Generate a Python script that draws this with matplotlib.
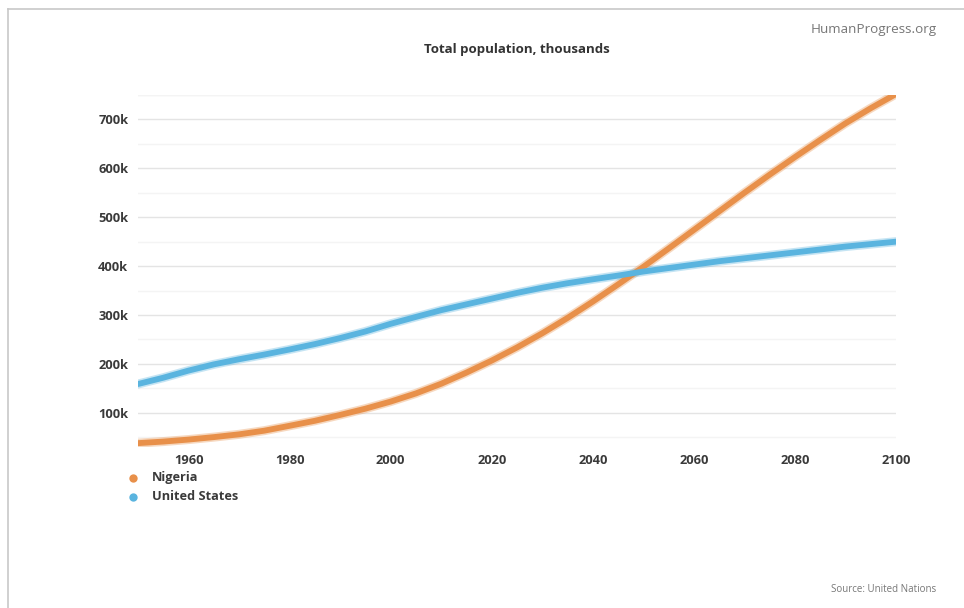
import numpy as np
import matplotlib.pyplot as plt
from matplotlib.lines import Line2D
from matplotlib.ticker import FuncFormatter, MultipleLocator

plt.rcParams['font.family'] = ['Open Sans', 'DejaVu Sans']

# population, thousands (UN estimates)
years = [1950, 1955, 1960, 1965, 1970, 1975, 1980, 1985, 1990, 1995, 2000,
         2005, 2010, 2015, 2020, 2025, 2030, 2035, 2040, 2045, 2050, 2055,
         2060, 2065, 2070, 2075, 2080, 2085, 2090, 2095, 2100]
nigeria = [37900, 41100, 45200, 50200, 55900, 63400, 73400, 83600, 95600,
           108400, 122900, 139600, 159400, 182200, 206800, 233600, 262600,
           294000, 327400, 362500, 398500, 436000, 474000, 512000, 550000,
           587000, 623000, 658000, 692000, 723000, 752000]
usa = [158800, 171700, 186300, 199000, 209500, 219100, 229500, 240500,
       252800, 266300, 282000, 296100, 309900, 321800, 333500, 345200,
       355800, 365000, 373000, 380600, 388900, 396000, 403000, 410000,
       416000, 422000, 428000, 434000, 440000, 445000, 450000]
series_names = ['Nigeria', 'United States']
series_colors = ['#e8904a', '#5ab4df']
x_ticks = [1960, 1980, 2000, 2020, 2040, 2060, 2080, 2100]
y_ticks = [100000, 200000, 300000, 400000, 500000, 600000, 700000]

fig = plt.figure(figsize=(9.64, 6.08), dpi=100)
ax = fig.add_axes([138/964, 1 - 447/608, (896 - 138)/964, (447 - 95)/608])

for vals, name, col in zip([nigeria, usa], series_names, series_colors):
    # soft halo then core line, the reference looks slightly blurred
    ax.plot(years, vals, color=col, lw=6.5, alpha=0.35,
            solid_capstyle='round', zorder=3)
    ax.plot(years, vals, color=col, lw=4.2, solid_capstyle='round',
            zorder=4, label=name)

ax.set_xlim(1950, 2100)
ax.set_ylim(30000, 750000)
ax.set_xticks(x_ticks)
ax.set_yticks(y_ticks)
ax.yaxis.set_minor_locator(MultipleLocator(50000))
ax.yaxis.set_major_formatter(FuncFormatter(lambda v, p: '%dk' % (v // 1000)))

ax.grid(axis='y', which='major', color='#e4e4e4', lw=1.0, zorder=0)
ax.grid(axis='y', which='minor', color='#f4f4f4', lw=1.0, zorder=0)
ax.axhline(750000, color='#f2f2f2', lw=1.0, zorder=0)
for s in ax.spines.values():
    s.set_visible(False)
ax.tick_params(axis='both', which='both', length=0, labelsize=9.3,
               labelcolor='#3a3a3a')
ax.tick_params(axis='y', pad=7)
ax.tick_params(axis='x', pad=5)
for lbl in ax.get_xticklabels() + ax.get_yticklabels():
    lbl.set_fontweight('bold')

fig.text(517/964, 1 - 50/608, 'Total population, thousands', ha='center',
         va='center', fontsize=9.5, fontweight='bold', color='#333333')
fig.text(937/964, 1 - 30/608, 'HumanProgress.org', ha='right', va='center',
         fontsize=9.7, color='#777777')
fig.text(936/964, 1 - 589/608, 'Source: United Nations', ha='right',
         va='center', fontsize=7, color='#777777')

# legend drawn by hand to sit below the axis at the left
for i, (name, col) in enumerate(zip(series_names, series_colors)):
    yy = 1 - (478 + 19 * i)/608
    fig.add_artist(Line2D([133/964], [yy], marker='o', ms=6, color=col,
                          mec='none', transform=fig.transFigure))
    fig.text(152/964, yy, name, ha='left', va='center', fontsize=9.2,
             fontweight='bold', color='#3a3a3a')

# page border
fig.add_artist(Line2D([8/964, 8/964], [0, 1 - 9/608], color='#c8c8c8',
                      lw=1.2, transform=fig.transFigure))
fig.add_artist(Line2D([8/964, 1], [1 - 9/608, 1 - 9/608], color='#c8c8c8',
                      lw=1.2, transform=fig.transFigure))

fig.savefig('out.png', dpi=100)
